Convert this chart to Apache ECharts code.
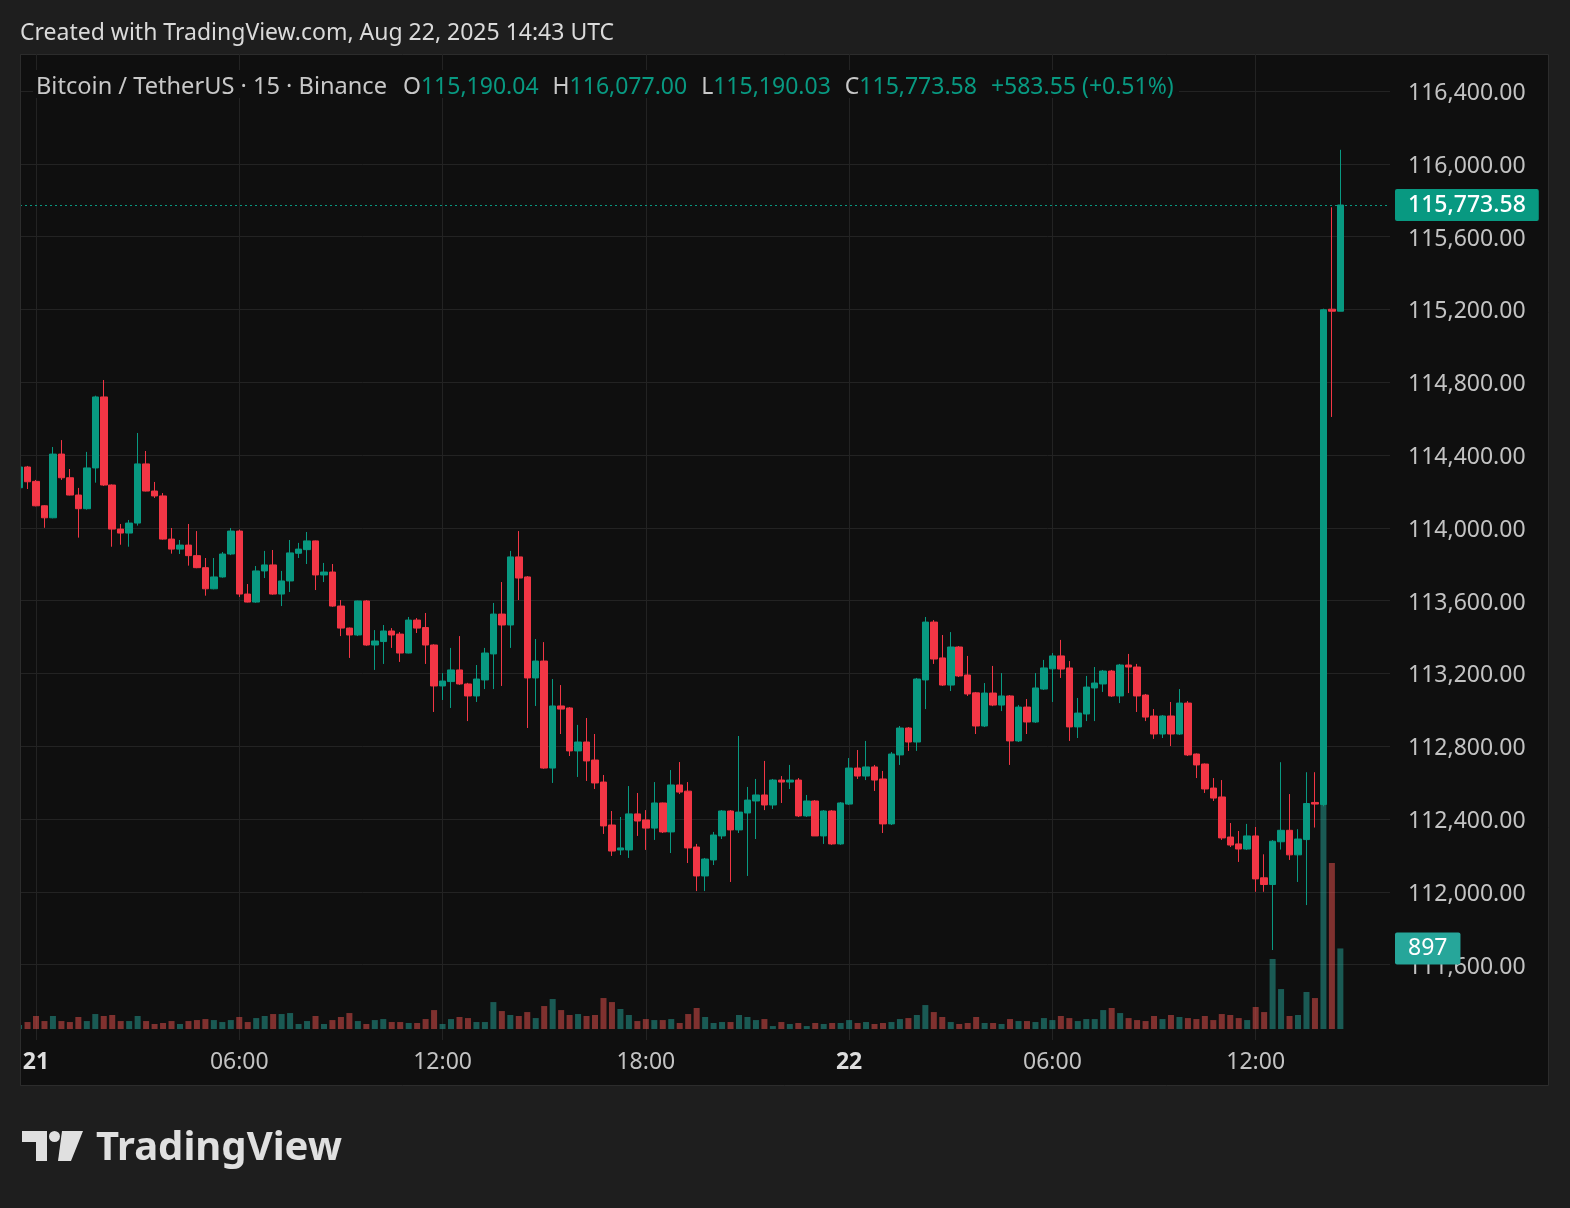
<!DOCTYPE html>
<html><head><meta charset="utf-8">
<script src="https://cdn.jsdelivr.net/npm/echarts@6/dist/echarts.min.js"></script>
<style>html,body{margin:0;padding:0;background:#1e1e1e;}#c{width:1570px;height:1208px;}</style>
</head><body><div id="c"></div>
<script>
const symbolName = 'Bitcoin / TetherUS · 15 · Binance';
const headerText = 'Created with TradingView.com, Aug 22, 2025 14:43 UTC';
const tickIdx = [2, 26, 50, 74, 98, 122, 146];
const tickLabels = ['21', '06:00', '12:00', '18:00', '22', '06:00', '12:00'];

const open = [
114220,114334,114255,114121,114055,114405,114275,114180,114105,114329,
114719,114235,113993,113971,114026,114351,114202,114175,113938,113883,
113905,113847,113781,113665,113730,113856,113982,113636,113592,113763,
113796,113636,113708,113860,113880,113928,113741,113757,113570,113449,
113411,113598,113356,113375,113433,113416,113312,113493,113452,113356,
113131,113155,113219,113142,113076,113164,113307,113526,113466,113840,
113730,113175,113268,112680,113021,113010,112774,112823,112724,112603,
112367,112230,112230,112428,112395,112350,112488,112329,112587,112553,
112246,112087,112175,112307,112444,112340,112433,112499,112532,112477,
112614,112603,112614,112417,112499,112307,112444,112263,112482,112680,
112636,112686,112620,112373,112752,112900,112823,113164,113482,113285,
113136,113345,113191,113093,112911,113092,113026,113076,112829,113015,
112933,113114,113225,113296,113230,112906,112977,113120,113142,113213,
113076,113246,113235,113081,112966,112867,112966,112867,113037,112757,
112702,112570,112521,112301,112263,112235,112307,112077,112040,112275,
112338,112203,112287,112491,112480,115201,115190.04
];
const close = [
114334,114253,114121,114055,114405,114275,114180,114105,114329,114719,
114235,113993,113971,114026,114351,114202,114175,113938,113883,113905,
113847,113781,113665,113730,113856,113982,113636,113592,113763,113796,
113636,113708,113862,113883,113928,113741,113757,113570,113449,113411,
113598,113356,113378,113433,113411,113312,113493,113449,113356,113131,
113158,113219,113142,113076,113169,113312,113526,113466,113840,113724,
113175,113268,112680,113021,113004,112774,112823,112719,112598,112362,
112224,112241,112428,112389,112350,112488,112329,112587,112548,112241,
112087,112180,112312,112444,112340,112438,112504,112532,112477,112614,
112603,112614,112417,112499,112307,112444,112263,112488,112680,112636,
112686,112614,112373,112757,112900,112823,113169,113482,113279,113136,
113345,113186,113087,112911,113092,113026,113076,112829,113015,112933,
113120,113230,113296,113224,112906,112982,113125,113147,113213,113076,
113246,113235,113076,112960,112867,112966,112867,113037,112752,112697,
112565,112515,112296,112257,112235,112307,112071,112040,112278,112338,
112203,112290,112485,112482,115198,115190.03,115773.58
];
const low = [
114213,114213,114118,114000,114052,114263,114178,113946,114100,114248,
114230,113896,113907,113896,114012,114200,114164,113935,113858,113856,
113792,113778,113627,113662,113726,113850,113620,113590,113588,113724,
113632,113570,113647,113834,113801,113658,113702,113566,113405,113285,
113405,113352,113219,113252,113340,113263,113310,113422,113252,112988,
113054,113010,113137,112938,113043,113114,113114,113131,113340,113603,
112900,113021,112676,112598,112867,112746,112631,112609,112565,112318,
112197,112202,112186,112307,112230,112285,112323,112213,112537,112158,
112004,112004,112147,112290,112054,112323,112087,112290,112449,112455,
112488,112565,112411,112411,112307,112263,112258,112258,112477,112620,
112614,112554,112323,112367,112697,112774,112774,113004,113252,113131,
113103,113180,113076,112867,112905,113020,112993,112697,112823,112867,
112928,113109,113043,113175,112829,112845,112938,112938,113098,113071,
113037,113092,112988,112938,112840,112845,112801,112862,112746,112625,
112543,112499,112285,112246,112164,112230,112000,112000,111680,112232,
112175,112054,111927,112353,112470,114609,115190.03
];
const high = [
114356,114340,114263,114124,114444,114482,114323,114219,114417,114726,
114812,114238,114021,114043,114521,114422,114252,114191,113999,113933,
114021,113982,113834,113834,113867,113999,113990,113691,113790,113873,
113878,113763,113933,113917,113977,113930,113807,113801,113603,113452,
113600,113603,113438,113466,113449,113427,113510,113504,113532,113360,
113202,113340,113405,113148,113246,113340,113587,113702,113873,113982,
113735,113389,113372,113169,113136,113015,112917,112955,112867,112642,
112444,112411,112581,112543,112449,112603,112490,112669,112713,112603,
112263,112186,112329,112449,112449,112856,112576,112620,112719,112620,
112636,112697,112625,112532,112504,112449,112449,112493,112735,112779,
112829,112697,112664,112768,112911,112905,113175,113510,113493,113411,
113427,113350,113296,113098,113147,113241,113202,113081,113026,113059,
113202,113274,113312,113384,113268,113065,113186,113235,113219,113219,
113252,113307,113252,113087,113004,112971,113043,113114,113048,112760,
112705,112625,112614,112378,112334,112373,112356,112206,112284,112712,
112537,112344,112657,112657,115204,115761,116077
];
const volume = [
45,78,145,89,145,89,78,134,89,167,
145,156,89,89,145,89,56,67,89,56,
89,100,111,100,78,100,134,78,122,145,
167,167,178,56,89,145,56,100,134,178,
89,56,100,111,78,78,67,67,111,211,
56,111,134,122,78,78,300,200,156,145,
189,122,256,334,211,156,167,145,156,345,
300,223,156,89,111,100,100,111,67,167,
234,134,67,78,78,156,134,100,111,33,
78,56,67,33,67,56,67,67,100,67,
78,56,67,78,111,122,156,267,189,134,
78,56,67,134,67,67,56,111,89,89,
78,122,100,145,122,89,111,111,211,234,
178,122,100,89,145,111,156,134,122,111,
145,100,167,156,122,100,245,189,780,445,
145,156,412,345,2504,1848,897
];

const FONT = '"Noto Sans", sans-serif';
const UP = '#089981', DOWN = '#f23645';
const fmt = v => Number(v).toLocaleString('en-US', {minimumFractionDigits: 2, maximumFractionDigits: 2});
const n = open.length;
const last = n - 1;
const xMin = 0.111, xMax = 161.86;

const candles = open.map((o, i) => [i, o, close[i], low[i], high[i]]);
const vols = volume.map((v, i) => ({
  value: [i, v],
  itemStyle: {color: close[i] >= open[i] ? 'rgba(38,166,154,0.5)' : 'rgba(239,83,80,0.5)'}
}));

const chg = close[last] - close[last - 1];
const pct = chg / close[last - 1] * 100;
const sgn = x => (x >= 0 ? '+' : '');
const legendText =
  '{s|' + symbolName + '}{g0| }{l|O}{v|' + fmt(open[last]) + '}{g| }{l|H}{v|' + fmt(high[last]) +
  '}{g| }{l|L}{v|' + fmt(low[last]) + '}{g| }{l|C}{v|' + fmt(close[last]) + '}{g| }{v|' +
  sgn(chg) + chg.toFixed(2) + ' (' + sgn(pct) + pct.toFixed(2) + '%)}';

const chart = echarts.init(document.getElementById('c'), null, {renderer: 'canvas'});
chart.setOption({
  backgroundColor: '#1e1e1e',
  animation: false,
  textStyle: {fontFamily: FONT},
  grid: [
    {left: 20, right: 180, top: 91, bottom: 243.4},
    {left: 20, right: 180, top: 54, bottom: 168}
  ],
  xAxis: [
    {type: 'value', gridIndex: 0, min: xMin, max: xMax, show: false},
    {type: 'value', gridIndex: 1, min: xMin, max: xMax,
      axisLine: {show: false},
      axisTick: {show: false, customValues: tickIdx},
      splitLine: {show: true, lineStyle: {color: '#232323', width: 1}},
      axisLabel: {
        customValues: tickIdx, margin: 11, fontSize: 23, color: '#c3c3c3', fontFamily: FONT,
        formatter: v => {
          const k = tickIdx.indexOf(Math.round(v));
          const s = k >= 0 ? tickLabels[k] : '';
          return s.indexOf(':') >= 0 ? s : '{b|' + s + '}';
        },
        rich: {b: {fontWeight: 'bold', fontSize: 23, color: '#dedede', fontFamily: FONT}}
      }
    }
  ],
  yAxis: [
    {type: 'value', gridIndex: 0, position: 'right', min: 111600, max: 116400, interval: 400,
      axisLine: {show: false}, axisTick: {show: false},
      splitLine: {lineStyle: {color: '#232323', width: 1}},
      axisLabel: {margin: 18, fontSize: 23, color: '#c3c3c3', fontFamily: FONT,
        formatter: v => '{a|' + fmt(v) + '}',
        rich: {a: {fontSize: 23, color: '#c3c3c3', fontFamily: FONT, padding: [5, 0, 0, 0]}}}
    },
    {type: 'value', gridIndex: 1, min: -122, max: 10852, show: false}
  ],
  series: [
    {
      type: 'bar', xAxisIndex: 1, yAxisIndex: 1, data: vols, barWidth: 6, z: 1,
      markLine: {
        silent: true, symbol: ['none', 'none'],
        lineStyle: {color: 'rgba(0,0,0,0)'},
        data: [{yAxis: volume[last]}],
        label: {show: true, position: 'end', distance: 5, formatter: p => String(p.value),
          backgroundColor: '#26a69a', color: '#ffffff', fontSize: 23, fontFamily: FONT,
          padding: [5, 13, 4, 13], borderRadius: 2}
      }
    },
    {
      type: 'candlestick', xAxisIndex: 0, yAxisIndex: 0, data: candles,
      encode: {x: 0, y: [1, 2, 3, 4]}, barWidth: 7, z: 3,
      itemStyle: {color: UP, color0: DOWN, borderColor: UP, borderColor0: DOWN, borderWidth: 1},
      markLine: {
        silent: true, symbol: ['none', 'none'],
        lineStyle: {color: UP, type: [2, 3], width: 1},
        data: [{yAxis: close[last]}],
        label: {show: true, position: 'end', distance: 5, formatter: p => fmt(p.value),
          backgroundColor: UP, color: '#ffffff', fontSize: 23, fontFamily: FONT, fontWeight: 500,
          padding: [5, 13, 4, 13], borderRadius: 2}
      }
    }
  ],
  graphic: [
    {type: 'rect', z: -10, shape: {x: 20.5, y: 54.5, width: 1528, height: 1031},
      style: {fill: '#0f0f0f', stroke: '#2c2c2c', lineWidth: 1}},
    {type: 'rect', z: 100, shape: {x: 0, y: 50, width: 20, height: 1040}, style: {fill: '#1e1e1e'}},
    {type: 'line', z: 101, shape: {x1: 20.5, y1: 54.5, x2: 20.5, y2: 1085.5}, style: {stroke: '#2c2c2c', lineWidth: 1}},
    {type: 'rect', z: 50, shape: {x: 33, y: 70, width: 1146, height: 28}, style: {fill: '#0f0f0f'}},
    {type: 'text', z: 60, left: 20, top: 22, style: {text: headerText, fill: '#dadada', font: '23px "Noto Sans"'}},
    {type: 'text', z: 60, left: 36, top: 75, style: {
      text: legendText, font: '23px "Noto Sans"',
      rich: {
        s: {fill: '#c8c8c8', fontSize: 23.6, fontFamily: 'Noto Sans'},
        l: {fill: '#c8c8c8', fontSize: 23, fontFamily: 'Noto Sans'},
        v: {fill: UP, fontSize: 23, fontFamily: 'Noto Sans'},
        g0: {width: 16, fontSize: 23},
        g: {width: 14, fontSize: 23}
      }
    }},
    {type: 'polygon', shape: {points: [[22,1131],[47,1131],[47,1161],[36,1161],[36,1142],[22,1142]]}, style: {fill: '#e0e0e0'}},
    {type: 'circle', shape: {cx: 54.5, cy: 1136.5, r: 5.5}, style: {fill: '#e0e0e0'}},
    {type: 'polygon', shape: {points: [[62,1131],[83,1131],[71,1161],[58,1161]]}, style: {fill: '#e0e0e0'}},
    {type: 'text', left: 96, top: 1129, style: {text: 'TradingView', fill: '#e0e0e0', font: 'bold 40px "Noto Sans"'}}
  ]
});
</script>
</body></html>
